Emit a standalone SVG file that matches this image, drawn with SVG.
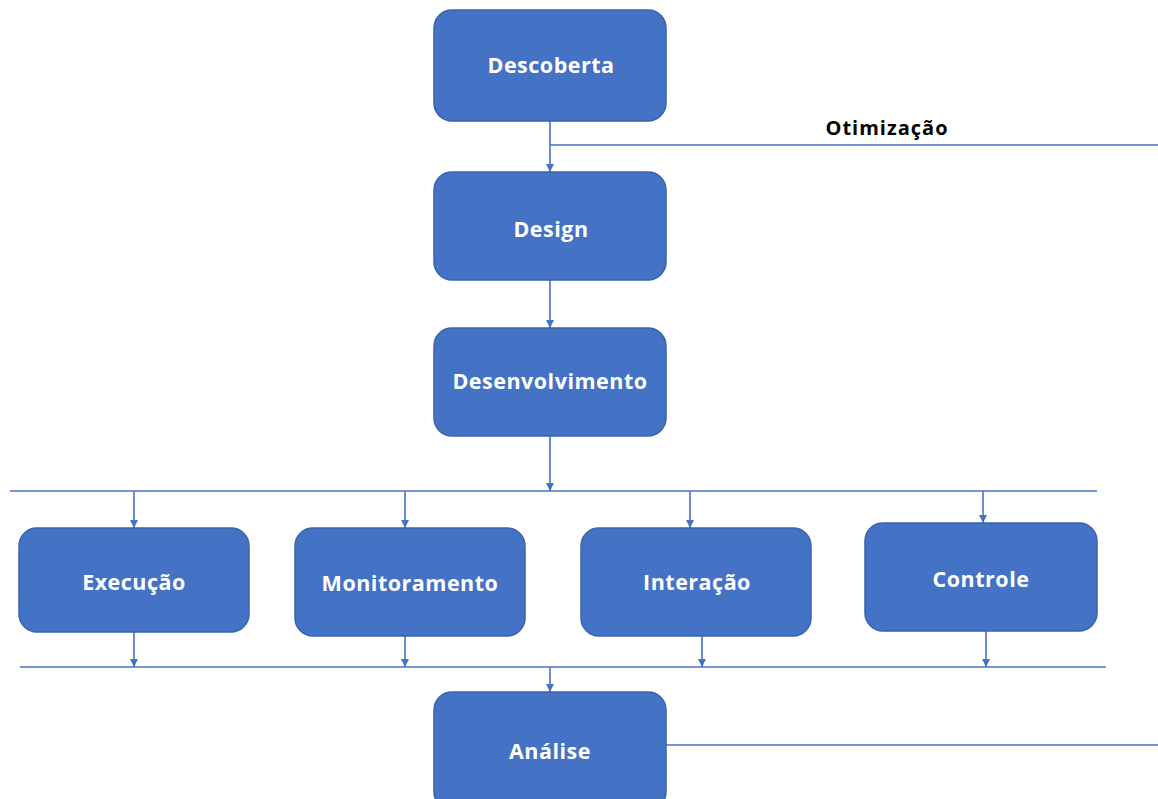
<svg xmlns="http://www.w3.org/2000/svg" width="1158" height="799" viewBox="0 0 1158 799">
<defs>
<style>
.box{fill:#4472C4;stroke:#3A63AD;stroke-width:1.5}
.lbl{fill:#fff;font-family:"Open Sans","Noto Sans",sans-serif;font-weight:bold;font-size:21.5px;letter-spacing:0.5px;text-anchor:middle}
.ln{stroke:#4472C4;stroke-width:1.6;fill:none}
.ar{stroke:#4472C4;stroke-width:1.6;fill:none;marker-end:url(#ah)}
</style>
<marker id="ah" viewBox="0 0 10 10" refX="10" refY="5" markerWidth="8" markerHeight="8" markerUnits="userSpaceOnUse" orient="auto">
<path d="M0,0 L10,5 L0,10 z" fill="#4472C4"/>
</marker>
</defs>
<rect width="1158" height="799" fill="#fff"/>
<g id="connectors">
<line class="ar" x1="550" y1="121" x2="550" y2="172"/>
<line class="ln" x1="550" y1="145" x2="1158" y2="145"/>
<line class="ar" x1="550" y1="280" x2="550" y2="328"/>
<line class="ar" x1="550" y1="436" x2="550" y2="491"/>
<line class="ln" x1="10" y1="491" x2="1097" y2="491"/>
<line class="ar" x1="134" y1="491" x2="134" y2="528"/>
<line class="ar" x1="405" y1="491" x2="405" y2="528"/>
<line class="ar" x1="690" y1="491" x2="690" y2="528"/>
<line class="ar" x1="983" y1="491" x2="983" y2="523"/>
<line class="ar" x1="134" y1="632" x2="134" y2="667"/>
<line class="ar" x1="405" y1="636" x2="405" y2="667"/>
<line class="ar" x1="702" y1="636" x2="702" y2="667"/>
<line class="ar" x1="986" y1="631" x2="986" y2="667"/>
<line class="ln" x1="20" y1="667" x2="1106" y2="667"/>
<line class="ar" x1="550" y1="667" x2="550" y2="692"/>
<line class="ln" x1="666" y1="745" x2="1158" y2="745"/>
<text x="887" y="135" font-family="'Open Sans','Noto Sans',sans-serif" font-weight="bold" font-size="20" letter-spacing="1" text-anchor="middle" fill="#000">Otimização</text>
</g>
<g id="descoberta"><rect class="box" x="434" y="10" width="232" height="111" rx="18"/><text class="lbl" x="551" y="73">Descoberta</text></g>
<g id="design"><rect class="box" x="434" y="172" width="232" height="108" rx="18"/><text class="lbl" x="551" y="237">Design</text></g>
<g id="desenvolvimento"><rect class="box" x="434" y="328" width="232" height="108" rx="18"/><text class="lbl" x="550" y="389">Desenvolvimento</text></g>
<g id="execucao"><rect class="box" x="19" y="528" width="230" height="104" rx="18"/><text class="lbl" x="134" y="590">Execução</text></g>
<g id="monitoramento"><rect class="box" x="295" y="528" width="230" height="108" rx="18"/><text class="lbl" x="410" y="591">Monitoramento</text></g>
<g id="interacao"><rect class="box" x="581" y="528" width="230" height="108" rx="18"/><text class="lbl" x="697" y="590">Interação</text></g>
<g id="controle"><rect class="box" x="865" y="523" width="232" height="108" rx="18"/><text class="lbl" x="981" y="587">Controle</text></g>
<g id="analise"><rect class="box" x="434" y="692" width="232" height="118" rx="18"/><text class="lbl" x="550" y="759">Análise</text></g>
</svg>
